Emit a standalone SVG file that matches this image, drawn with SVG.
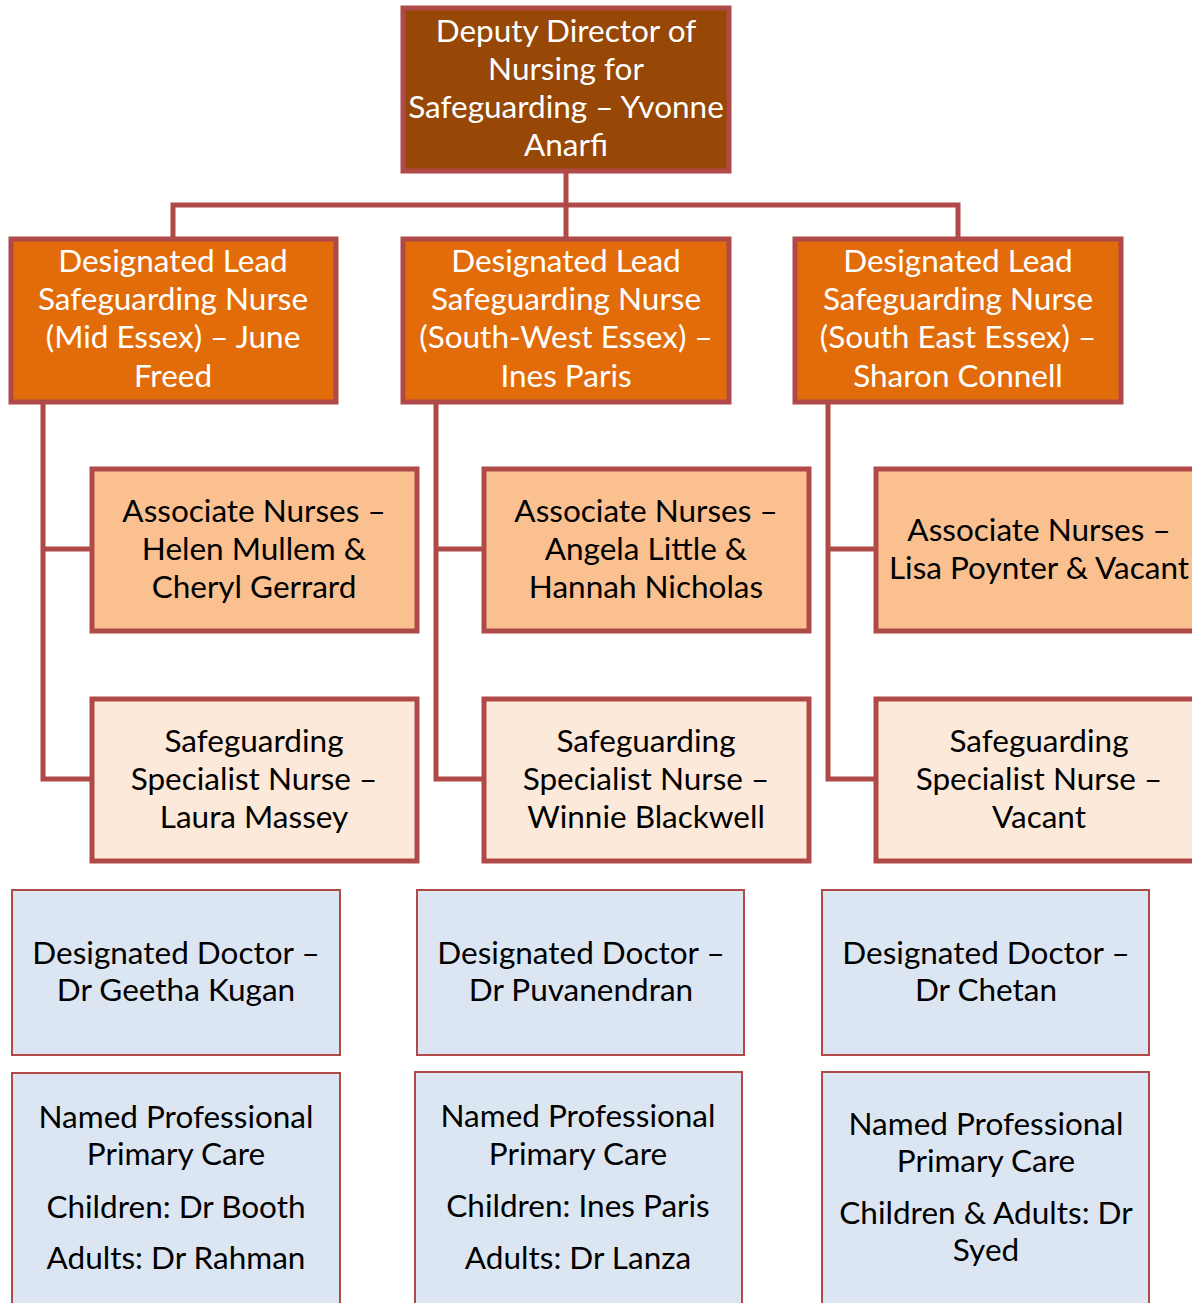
<svg xmlns="http://www.w3.org/2000/svg" width="1192" height="1303" viewBox="0 0 1192 1303">
<style>
.b{stroke:#B04A48;stroke-width:5}
.t{stroke:#B04A48;stroke-width:2}
.c{stroke:#B04A48;stroke-width:5;fill:none}
text{font-family:Lato,"Liberation Sans",sans-serif;font-size:31.5px;text-anchor:middle}
.w{fill:#FFFFFF}
.k{fill:#000000}
</style>
<rect width="1192" height="1303" fill="#FFFFFF"/>
<g id="connectors">
<path class="c" d="M566 171V238M173 238V205H958V238"/>
<path class="c" d="M43 402V779H92M43 549H92"/>
<path class="c" d="M436 402V779H484M436 549H484"/>
<path class="c" d="M828 402V779H876M828 549H876"/>
</g>
<g id="top">
<rect class="b" x="403" y="8" width="326" height="163" fill="#974706"/>
<text class="w"><tspan x="566" y="42">Deputy Director of</tspan><tspan x="566" y="80">Nursing for</tspan><tspan x="566" y="118">Safeguarding – Yvonne</tspan><tspan x="566" y="156">Anarfi</tspan></text>
</g>
<g id="lead-mid">
<rect class="b" x="11" y="239" width="325" height="163" fill="#E36C0A"/>
<text class="w"><tspan x="173" y="272">Designated Lead</tspan><tspan x="173" y="310">Safeguarding Nurse</tspan><tspan x="173" y="348">(Mid Essex) – June</tspan><tspan x="173" y="387">Freed</tspan></text>
</g>
<g id="lead-sw">
<rect class="b" x="403" y="239" width="326" height="163" fill="#E36C0A"/>
<text class="w"><tspan x="566" y="272">Designated Lead</tspan><tspan x="566" y="310">Safeguarding Nurse</tspan><tspan x="566" y="348">(South-West Essex) –</tspan><tspan x="566" y="387">Ines Paris</tspan></text>
</g>
<g id="lead-se">
<rect class="b" x="795" y="239" width="326" height="163" fill="#E36C0A"/>
<text class="w"><tspan x="958" y="272">Designated Lead</tspan><tspan x="958" y="310">Safeguarding Nurse</tspan><tspan x="958" y="348">(South East Essex) –</tspan><tspan x="958" y="387">Sharon Connell</tspan></text>
</g>
<g id="assoc-mid">
<rect class="b" x="92" y="469" width="325" height="162" fill="#FAC090"/>
<text class="k"><tspan x="254" y="522">Associate Nurses –</tspan><tspan x="254" y="560">Helen Mullem &amp;</tspan><tspan x="254" y="598">Cheryl Gerrard</tspan></text>
</g>
<g id="assoc-sw">
<rect class="b" x="484" y="469" width="325" height="162" fill="#FAC090"/>
<text class="k"><tspan x="646" y="522">Associate Nurses –</tspan><tspan x="646" y="560">Angela Little &amp;</tspan><tspan x="646" y="598">Hannah Nicholas</tspan></text>
</g>
<g id="assoc-se">
<rect class="b" x="876" y="469" width="325" height="162" fill="#FAC090"/>
<text class="k"><tspan x="1039" y="541">Associate Nurses –</tspan><tspan x="1039" y="579">Lisa Poynter &amp; Vacant</tspan></text>
</g>
<g id="spec-mid">
<rect class="b" x="92" y="699" width="325" height="162" fill="#FDE9D9"/>
<text class="k"><tspan x="254" y="752">Safeguarding</tspan><tspan x="254" y="790">Specialist Nurse –</tspan><tspan x="254" y="828">Laura Massey</tspan></text>
</g>
<g id="spec-sw">
<rect class="b" x="484" y="699" width="325" height="162" fill="#FDE9D9"/>
<text class="k"><tspan x="646" y="752">Safeguarding</tspan><tspan x="646" y="790">Specialist Nurse –</tspan><tspan x="646" y="828">Winnie Blackwell</tspan></text>
</g>
<g id="spec-se">
<rect class="b" x="876" y="699" width="325" height="162" fill="#FDE9D9"/>
<text class="k"><tspan x="1039" y="752">Safeguarding</tspan><tspan x="1039" y="790">Specialist Nurse –</tspan><tspan x="1039" y="828">Vacant</tspan></text>
</g>
<g id="doc-mid">
<rect class="t" x="12" y="890" width="328" height="165" fill="#DCE6F2"/>
<text class="k"><tspan x="176" y="964">Designated Doctor –</tspan><tspan x="176" y="1001">Dr Geetha Kugan</tspan></text>
</g>
<g id="doc-sw">
<rect class="t" x="417" y="890" width="327" height="165" fill="#DCE6F2"/>
<text class="k"><tspan x="581" y="964">Designated Doctor –</tspan><tspan x="581" y="1001">Dr Puvanendran</tspan></text>
</g>
<g id="doc-se">
<rect class="t" x="822" y="890" width="327" height="165" fill="#DCE6F2"/>
<text class="k"><tspan x="986" y="964">Designated Doctor –</tspan><tspan x="986" y="1001">Dr Chetan</tspan></text>
</g>
<g id="named-mid">
<rect class="t" x="12" y="1073" width="328" height="240" fill="#DCE6F2"/>
<text class="k"><tspan x="176" y="1128">Named Professional</tspan><tspan x="176" y="1165">Primary Care</tspan><tspan x="176" y="1218">Children: Dr Booth</tspan><tspan x="176" y="1269">Adults: Dr Rahman</tspan></text>
</g>
<g id="named-sw">
<rect class="t" x="415" y="1072" width="327" height="240" fill="#DCE6F2"/>
<text class="k"><tspan x="578" y="1127">Named Professional</tspan><tspan x="578" y="1165">Primary Care</tspan><tspan x="578" y="1217">Children: Ines Paris</tspan><tspan x="578" y="1269">Adults: Dr Lanza</tspan></text>
</g>
<g id="named-se">
<rect class="t" x="822" y="1072" width="327" height="240" fill="#DCE6F2"/>
<text class="k"><tspan x="986" y="1135">Named Professional</tspan><tspan x="986" y="1172">Primary Care</tspan><tspan x="986" y="1224">Children &amp; Adults: Dr</tspan><tspan x="986" y="1261">Syed</tspan></text>
</g>
</svg>
